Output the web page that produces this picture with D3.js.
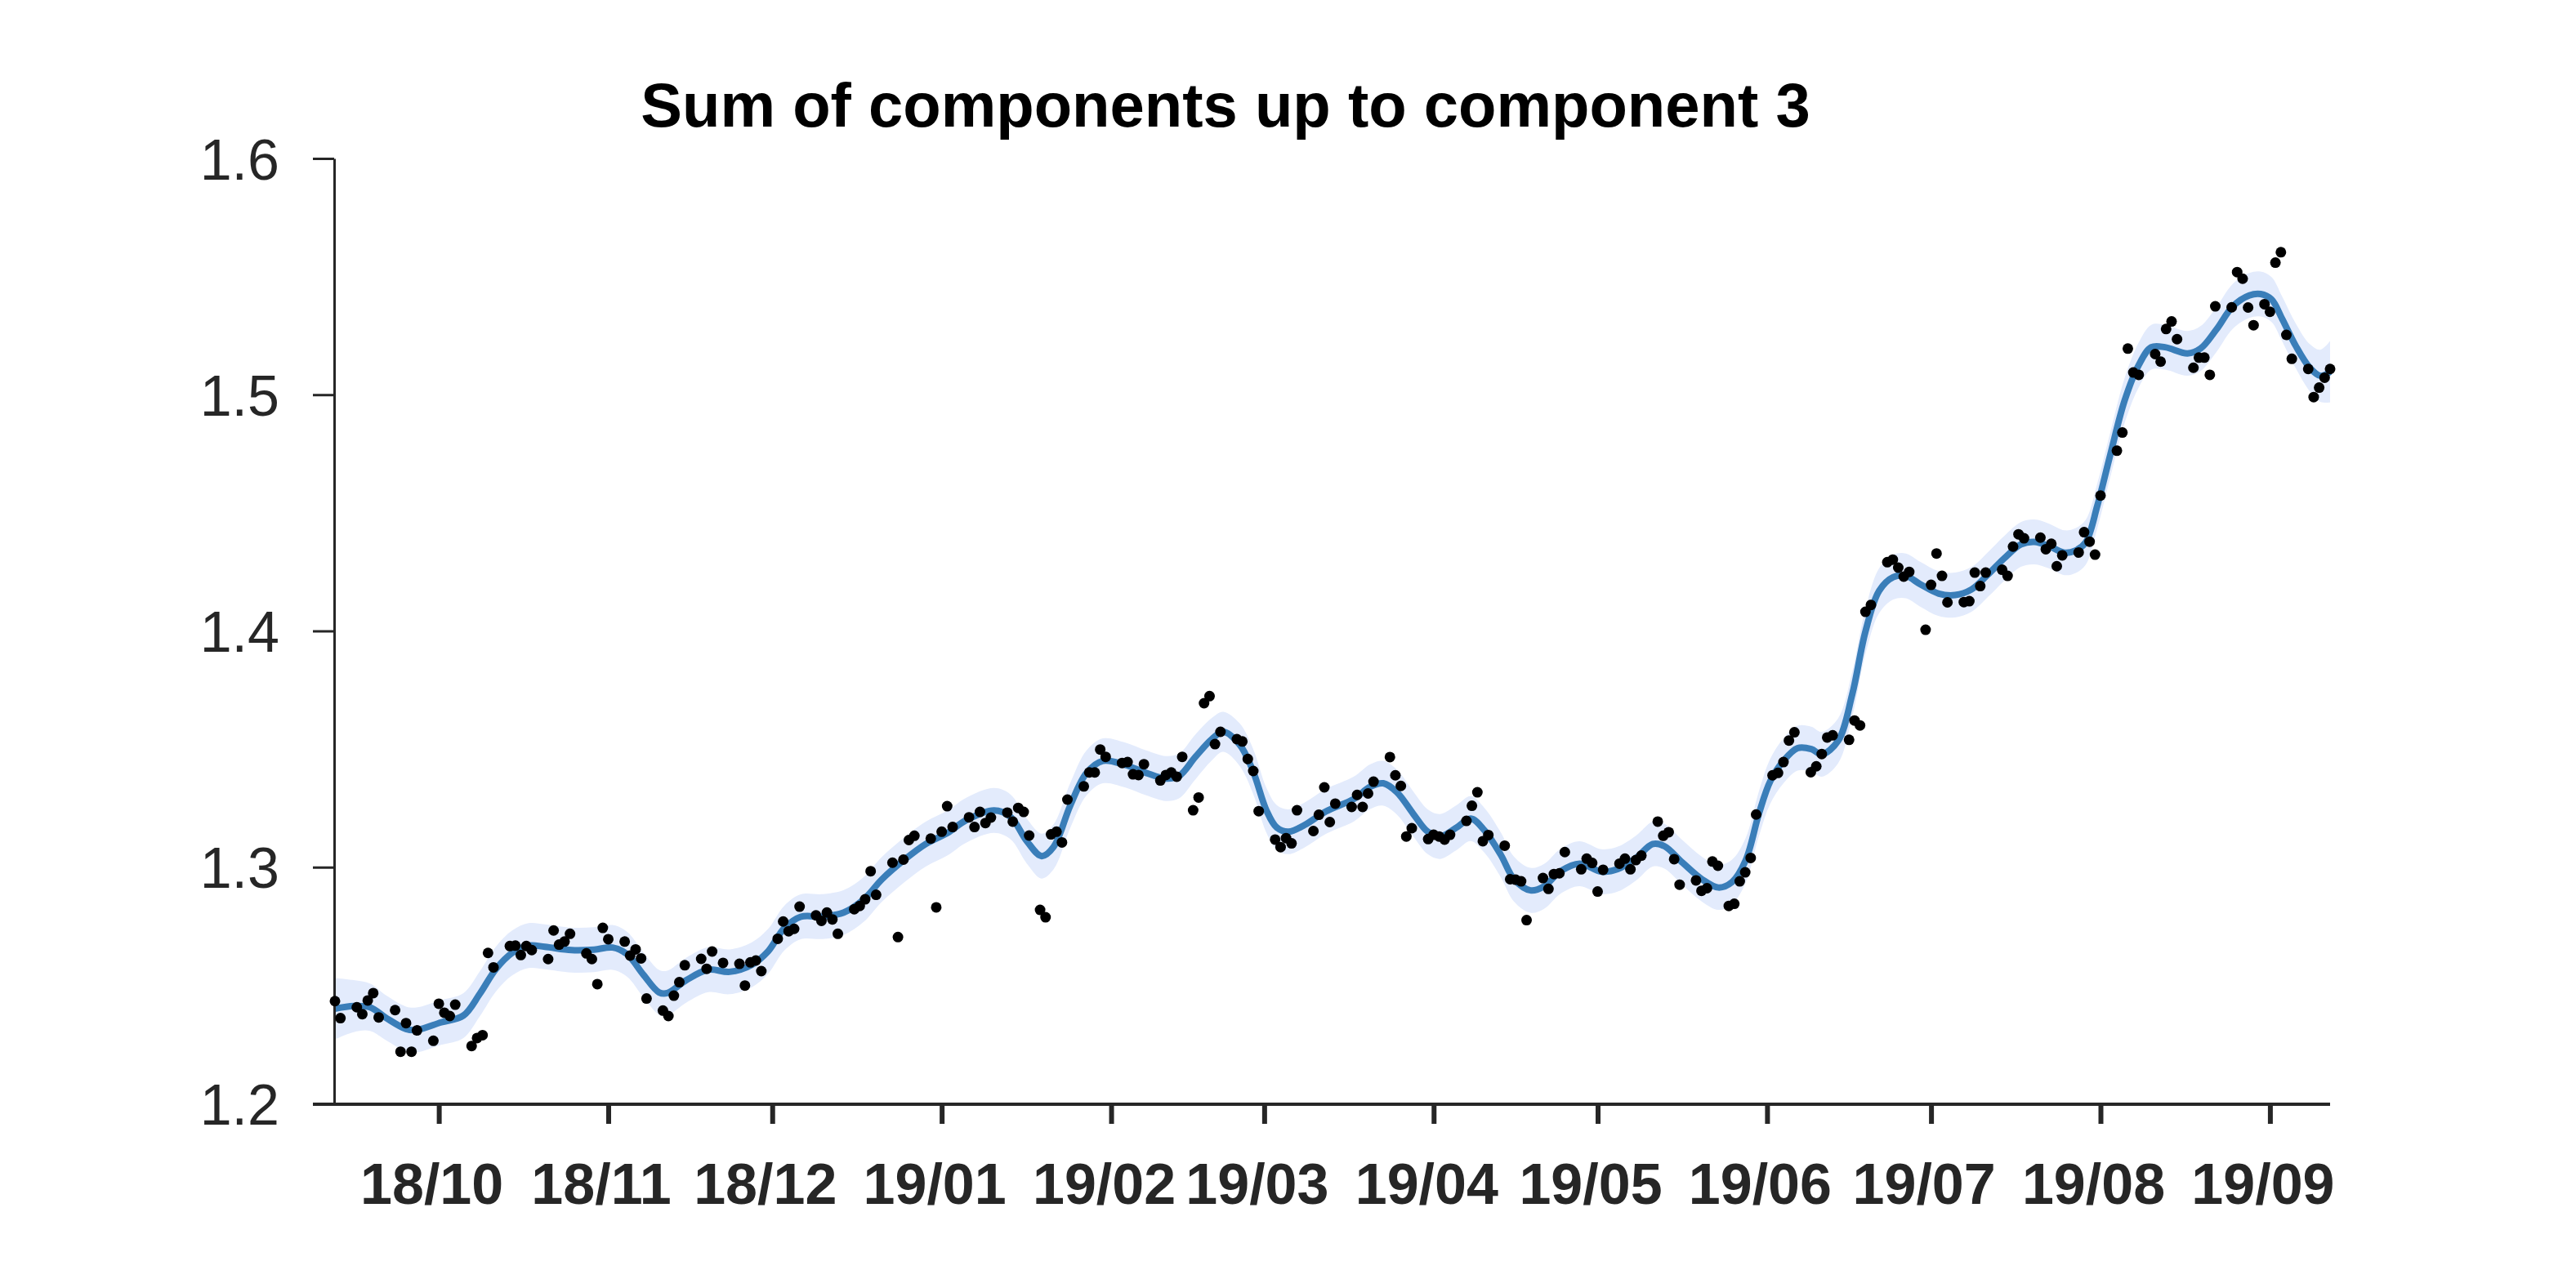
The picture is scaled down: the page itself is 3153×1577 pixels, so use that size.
<!DOCTYPE html>
<html><head><meta charset="utf-8">
<script src="https://cdn.jsdelivr.net/npm/d3@7"></script>
<style>html,body{margin:0;padding:0;background:#fff;} svg{display:block;}</style>
</head><body>
<svg id="chart" width="3153" height="1577"></svg>
<script>
// ---------------- data ----------------
const chartTitle = "Sum of components up to component 3";
const startDate = new Date(2018, 8, 12);   // day 0 of the series
const endDate = new Date(2019, 8, 12);
const tickDates = ["2018-10-01","2018-11-01","2018-12-01","2019-01-01","2019-02-01","2019-03-01",
                   "2019-04-01","2019-05-01","2019-06-01","2019-07-01","2019-08-01","2019-09-01"];
const tickLabels = ["18/10","18/11","18/12","19/01","19/02","19/03","19/04","19/05","19/06","19/07","19/08","19/09"];
const yTicks = [1.2, 1.3, 1.4, 1.5, 1.6];

// observations: days since startDate, value
const pointDays = [
  0,1,4,5,6,7,8,11,12,13,14,15,18,19,20,21,22,25,26,27,28,29,32,33,34,35,36,39,40,41,42,43,46,47,48,49,50,53,54,55,56,57,
  60,61,62,63,64,67,68,69,71,74,75,76,77,78,81,82,83,84,85,88,89,90,91,92,95,96,97,98,99,102,103,104,105,106,109,110,111,112,113,
  116,117,118,119,120,123,124,125,126,127,129,130,131,132,133,134,137,138,139,140,141,144,145,146,147,148,151,152,153,154,155,157,158,159,160,161,162,165,166,167,168,169,
  172,173,174,175,176,179,180,181,182,183,186,187,188,189,190,193,194,195,196,197,200,201,202,203,204,207,208,209,210,211,214,215,216,217,218,221,222,223,224,225,
  228,229,230,231,232,235,236,237,238,239,242,243,244,245,246,249,250,251,252,253,255,256,257,258,259,260,263,264,265,266,267,270,271,272,273,274,277,278,279,
  280,281,284,285,286,287,288,291,292,293,294,295,298,299,300,301,302,305,306,307,308,309,312,313,314,315,316,319,320,321,322,323,
  326,327,328,329,330,333,334,335,336,337,340,341,342,343,344,347,348,349,350,351,353,354,355,356,357,358,361,362,363,364,365
];
const pointValues = [
  1.2433,1.2361,1.2407,1.2378,1.2436,1.2467,1.2364,1.2395,1.2219,1.2340,1.2219,1.2309,1.2265,1.2422,1.2384,1.2370,1.2418,1.2243,1.2277,1.2289,1.2637,1.2576,1.2666,1.2668,1.2628,1.2666,1.2649,1.2611,1.2732,1.2672,1.2685,1.2718,1.2635,1.2611,1.2505,1.2743,1.2695,1.2685,1.2626,1.2652,1.2614,1.2444,
  1.2393,1.2370,1.2456,1.2513,1.2585,1.2612,1.2570,1.2643,1.2595,1.2591,1.2499,1.2597,1.2605,1.2560,1.2697,1.2770,1.2729,1.2739,1.2833,1.2796,1.2773,1.2808,1.2779,1.2718,1.2822,1.2836,1.2864,1.2983,1.2883,1.3019,1.2704,1.3032,1.3115,1.3133,1.3121,1.2830,1.3150,1.3258,1.3170,
  1.3211,1.3170,1.3234,1.3187,1.3210,1.3231,1.3193,1.3251,1.3234,1.3134,1.2819,1.2788,1.3139,1.3150,1.3105,1.3286,1.3342,1.3401,1.3401,1.3498,1.3467,1.3441,1.3445,1.3393,1.3390,1.3436,1.3367,1.3390,1.3401,1.3383,1.3467,1.3241,1.3295,1.3694,1.3724,1.3521,1.3573,1.3542,1.3532,1.3458,1.3407,1.3237,
  1.3117,1.3085,1.3123,1.3101,1.3241,1.3153,1.3222,1.3338,1.3191,1.3269,1.3255,1.3306,1.3255,1.3312,1.3362,1.3466,1.3389,1.3344,1.3130,1.3165,1.3119,1.3137,1.3130,1.3117,1.3137,1.3196,1.3260,1.3317,1.3110,1.3136,1.3091,1.2949,1.2947,1.2940,1.2776,1.2954,1.2908,1.2971,1.2974,1.3064,
  1.2991,1.3036,1.3018,1.2897,1.2989,1.3015,1.3036,1.2991,1.3030,1.3049,1.3193,1.3133,1.3148,1.3034,1.2926,1.2944,1.2900,1.2911,1.3024,1.3006,1.2836,1.2845,1.2940,1.2978,1.3039,1.3223,1.3389,1.3399,1.3445,1.3536,1.3571,1.3402,1.3427,1.3479,1.3549,1.3558,1.3539,1.3621,1.3600,
  1.4081,1.4110,1.4291,1.4302,1.4268,1.4230,1.4250,1.4005,1.4195,1.4328,1.4233,1.4121,1.4122,1.4126,1.4247,1.4190,1.4247,1.4259,1.4233,1.4357,1.4409,1.4392,1.4395,1.4346,1.4369,1.4274,1.4320,1.4332,1.4418,1.4378,1.4323,1.4573,
  1.4763,1.4840,1.5195,1.5094,1.5084,1.5172,1.5140,1.5278,1.5310,1.5235,1.5114,1.5157,1.5157,1.5084,1.5374,1.5370,1.5519,1.5491,1.5369,1.5294,1.5383,1.5351,1.5559,1.5603,1.5253,1.5152,1.5109,1.4990,1.5030,1.5072,1.5109
];

// fitted smooth curve (sum of components) and its uncertainty half-width
const fitDays = [
  0, 3.4, 6.4, 9.4, 13.0, 14.9, 19.4, 23.5, 26.5, 29.4,
  32.4, 35.4, 38.4, 43.3, 47.4, 50.8, 53.4, 56.4, 59.3, 60.8,
  64.3, 68.3, 72.2, 76.2, 79.2, 82.2, 85.2, 89.2, 93.1, 96.7,
  100.1, 104.2, 108.1, 112.1, 115.5, 120.6, 123.6, 126.6, 129.3, 131.5,
  134.5, 137.5, 140.5, 144.5, 148.4, 152.0, 154.4, 157.4, 160.4, 162.5,
  165.5, 167.9, 170.4, 172.3, 174.4, 177.4, 181.3, 186.4, 189.4, 191.8,
  194.3, 197.3, 199.9, 202.2, 205.2, 207.8, 210.3, 213.3, 215.7, 218.7,
  221.2, 224.2, 227.7, 231.7, 234.7, 238.1, 241.1, 243.2, 246.6, 250.1,
  253.1, 255.6, 258.1, 260.5, 262.6, 265.0, 267.6, 270.1, 272.0, 275.0,
  277.6, 280.0, 282.5, 285.1, 287.4, 290.0, 293.4, 296.4, 299.4, 302.4,
  305.4, 308.4, 310.9, 313.5, 316.4, 318.4, 320.3, 322.4, 324.8, 327.4,
  330.0, 332.3, 334.8, 338.9, 341.3, 344.2, 347.2, 350.2, 352.3, 354.3,
  356.2, 358.7, 361.3, 363.2, 365.0
];
const fitValues = [
  1.2401, 1.2412, 1.2407, 1.2361, 1.2315, 1.2311, 1.2343, 1.2372, 1.2464, 1.2568,
  1.2637, 1.2668, 1.2663, 1.2649, 1.2651, 1.2660, 1.2632, 1.2545, 1.2470, 1.2467,
  1.2522, 1.2566, 1.2557, 1.2586, 1.2643, 1.2742, 1.2790, 1.2791, 1.2808, 1.2863,
  1.2949, 1.3032, 1.3098, 1.3145, 1.3199, 1.3240, 1.3213, 1.3110, 1.3047, 1.3087,
  1.3260, 1.3399, 1.3450, 1.3433, 1.3399, 1.3375, 1.3386, 1.3467, 1.3542, 1.3573,
  1.3519, 1.3409, 1.3240, 1.3168, 1.3150, 1.3179, 1.3236, 1.3289, 1.3341, 1.3355,
  1.3317, 1.3225, 1.3150, 1.3130, 1.3168, 1.3206, 1.3156, 1.3052, 1.2949, 1.2902,
  1.2919, 1.2983, 1.3015, 1.2981, 1.2992, 1.3040, 1.3098, 1.3089, 1.3018, 1.2949,
  1.2914, 1.2937, 1.3029, 1.3226, 1.3364, 1.3450, 1.3504, 1.3500, 1.3478, 1.3535,
  1.3732, 1.3998, 1.4170, 1.4228, 1.4233, 1.4198, 1.4158, 1.4152, 1.4176, 1.4239,
  1.4308, 1.4366, 1.4377, 1.4360, 1.4331, 1.4340, 1.4375, 1.4530, 1.4746, 1.4976,
  1.5126, 1.5201, 1.5201, 1.5175, 1.5195, 1.5276, 1.5374, 1.5420, 1.5426, 1.5403,
  1.5322, 1.5207, 1.5114, 1.5080, 1.5097
];
const fitHalfWidth = [
  0.0130, 0.0110, 0.0100, 0.0095, 0.0095, 0.0095, 0.0095, 0.0095, 0.0095, 0.0095,
  0.0095, 0.0095, 0.0095, 0.0095, 0.0095, 0.0095, 0.0095, 0.0095, 0.0095, 0.0095,
  0.0095, 0.0095, 0.0095, 0.0095, 0.0095, 0.0095, 0.0095, 0.0095, 0.0095, 0.0095,
  0.0095, 0.0095, 0.0095, 0.0095, 0.0095, 0.0095, 0.0095, 0.0095, 0.0095, 0.0095,
  0.0095, 0.0095, 0.0095, 0.0095, 0.0095, 0.0095, 0.0095, 0.0095, 0.0090, 0.0085,
  0.0090, 0.0095, 0.0095, 0.0095, 0.0095, 0.0095, 0.0095, 0.0095, 0.0095, 0.0095,
  0.0095, 0.0095, 0.0095, 0.0095, 0.0095, 0.0095, 0.0095, 0.0095, 0.0095, 0.0095,
  0.0095, 0.0095, 0.0095, 0.0095, 0.0095, 0.0095, 0.0095, 0.0095, 0.0095, 0.0095,
  0.0095, 0.0095, 0.0095, 0.0095, 0.0095, 0.0095, 0.0095, 0.0095, 0.0095, 0.0095,
  0.0095, 0.0095, 0.0095, 0.0095, 0.0095, 0.0095, 0.0095, 0.0095, 0.0095, 0.0095,
  0.0095, 0.0095, 0.0095, 0.0095, 0.0095, 0.0095, 0.0095, 0.0095, 0.0095, 0.0095,
  0.0095, 0.0095, 0.0095, 0.0095, 0.0095, 0.0095, 0.0095, 0.0095, 0.0095, 0.0095,
  0.0095, 0.0095, 0.0100, 0.0110, 0.0130
];

// ---------------- drawing ----------------
const plot = { left: 410, right: 2852, top: 194, bottom: 1351 };
const FONT = "'Liberation Sans', Arial, Helvetica, sans-serif";
const AXIS_COLOR = "#262626";

const svg = d3.select("#chart");
const dayToDate = d => d3.timeHour.offset(startDate, Math.round(d * 24));
const parseDay = d3.timeParse("%Y-%m-%d");

const x = d3.scaleTime().domain([startDate, endDate]).range([plot.left, plot.right]);
const y = d3.scaleLinear().domain([1.2, 1.6]).range([plot.bottom, plot.top]);

const fit = fitDays.map((d, i) => ({ date: dayToDate(d), v: fitValues[i], hw: fitHalfWidth[i] }));
const pts = pointDays.map((d, i) => ({ date: dayToDate(d), v: pointValues[i] }));

const curve = d3.curveCatmullRom.alpha(0.5);

// band
svg.append("path")
  .datum(fit)
  .attr("fill", "#e3ebfc")
  .attr("stroke", "none")
  .attr("d", d3.area().curve(curve)
    .x(d => x(d.date)).y0(d => y(d.v - d.hw)).y1(d => y(d.v + d.hw)));

// fitted line
svg.append("path")
  .datum(fit)
  .attr("fill", "none")
  .attr("stroke", "#3a7eb9")
  .attr("stroke-width", 8)
  .attr("stroke-linejoin", "round")
  .attr("d", d3.line().curve(curve).x(d => x(d.date)).y(d => y(d.v)));

// y axis
const yAxis = svg.append("g")
  .attr("transform", `translate(${plot.left - 1},0)`)
  .call(d3.axisLeft(y).tickValues(yTicks).tickFormat(d3.format(".1f"))
        .tickSize(26).tickSizeOuter(0).tickPadding(41));
yAxis.select(".domain").attr("stroke", AXIS_COLOR).attr("stroke-width", 3);
yAxis.selectAll(".tick line").attr("stroke", AXIS_COLOR).attr("stroke-width", 3);
yAxis.selectAll(".tick text")
  .attr("fill", AXIS_COLOR).attr("font-family", FONT).attr("font-size", 70).attr("dy", "0.36em");

// x axis
const xAxis = svg.append("g")
  .attr("transform", `translate(0,${plot.bottom + 1})`)
  .call(d3.axisBottom(x).tickValues(tickDates.map(parseDay)).tickFormat((d, i) => tickLabels[i])
        .tickSize(24).tickSizeOuter(0).tickPadding(48));
xAxis.select(".domain").remove();
xAxis.append("line")
  .attr("x1", plot.left - 27).attr("x2", plot.right)
  .attr("y1", 0).attr("y2", 0)
  .attr("stroke", AXIS_COLOR).attr("stroke-width", 4);
xAxis.selectAll(".tick line").attr("stroke", AXIS_COLOR).attr("stroke-width", 6);
xAxis.selectAll(".tick text")
  .attr("fill", AXIS_COLOR).attr("font-family", FONT).attr("font-size", 70).attr("font-weight", "bold")
  .attr("dx", -9);

// points
svg.append("g").selectAll("circle")
  .data(pts).join("circle")
  .attr("cx", d => x(d.date)).attr("cy", d => y(d.v))
  .attr("r", 6.5).attr("fill", "#000");

// title
svg.append("text")
  .attr("x", 1500).attr("y", 155)
  .attr("text-anchor", "middle")
  .attr("font-family", FONT).attr("font-size", 76).attr("font-weight", "bold")
  .attr("fill", "#000")
  .text(chartTitle);
</script>
</body></html>
